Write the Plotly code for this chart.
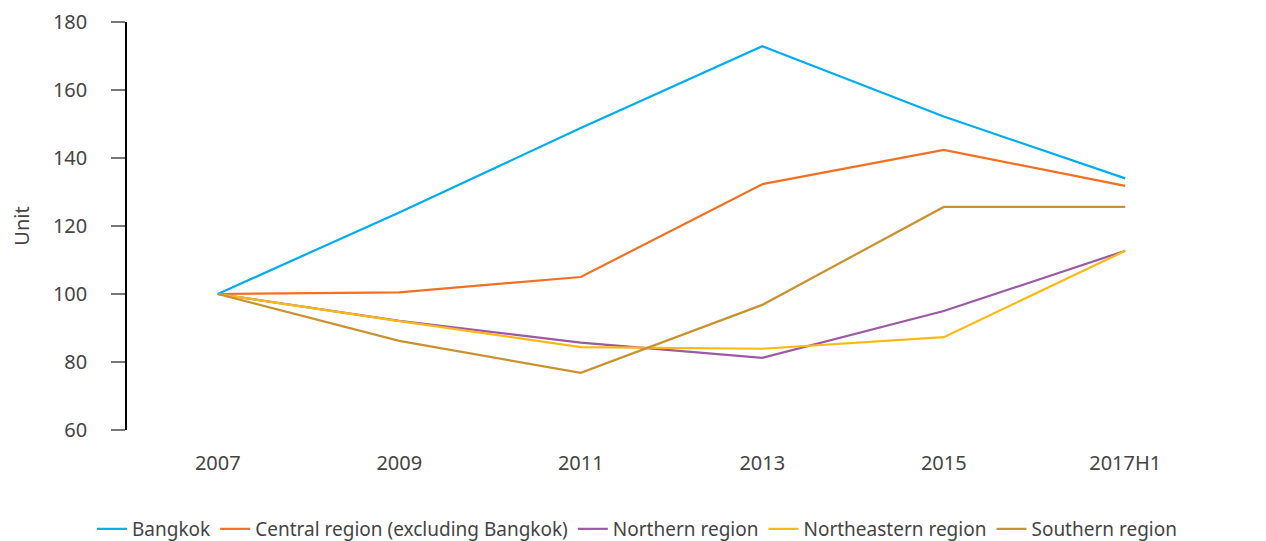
import plotly.graph_objects as go

# Datos
periodos = ["2007", "2009", "2011", "2013", "2015", "2017H1"]
bangkok = [100, 124, 148.8, 172.9, 152.2, 134]
central = [100, 100.5, 105, 132.3, 142.4, 131.8]
northern = [100, 92.1, 85.7, 81.2, 95, 112.7]
northeastern = [100, 92, 84.4, 83.9, 87.3, 112.7]
southern = [100, 86.2, 76.8, 96.8, 125.6, 125.6]

nombres = ["Bangkok", "Central region (excluding Bangkok)", "Northern region",
           "Northeastern region", "Southern region"]
series = [bangkok, central, northern, northeastern, southern]
colores = ["#00AEEF", "#F37021", "#9B59A6", "#FDB913", "#C9922E"]

fig = go.Figure()
for i in range(len(nombres)):
    fig.add_trace(go.Scatter(
        x=periodos, y=series[i], name=nombres[i], mode="lines",
        line=dict(color=colores[i], width=2.2),
    ))

# la pagina tiene 8px de margen en el body, por eso 1258x533
fig.update_layout(
    width=1258, height=533,
    plot_bgcolor="white", paper_bgcolor="white",
    font=dict(family="Noto Sans, sans-serif", size=20, color="#444444"),
    margin=dict(l=119, r=50, t=14, b=111, autoexpand=False),
    showlegend=True,
    legend=dict(orientation="h", xref="container", x=0.5, xanchor="center",
                yref="container", y=0.0225, yanchor="middle",
                itemwidth=30, tracegroupgap=0,
                font=dict(size=19, color="#444444")),
    xaxis=dict(
        type="category", range=[-0.5, 5.5], automargin=False,
        showline=False, showgrid=False, zeroline=False,
        ticks="outside", ticklen=15, tickcolor="rgba(0,0,0,0)",
    ),
    yaxis=dict(
        title=dict(text="Unit", standoff=64, font=dict(size=20, color="#444444")),
        range=[60, 180], dtick=20, automargin=False,
        showline=True, linecolor="black", linewidth=1.5,
        showgrid=False, zeroline=False,
        ticks="outside", ticklen=14, tickcolor="#777777", tickwidth=1.5,
        ticklabelstandoff=20,
    ),
)

fig.write_html("out.html")
